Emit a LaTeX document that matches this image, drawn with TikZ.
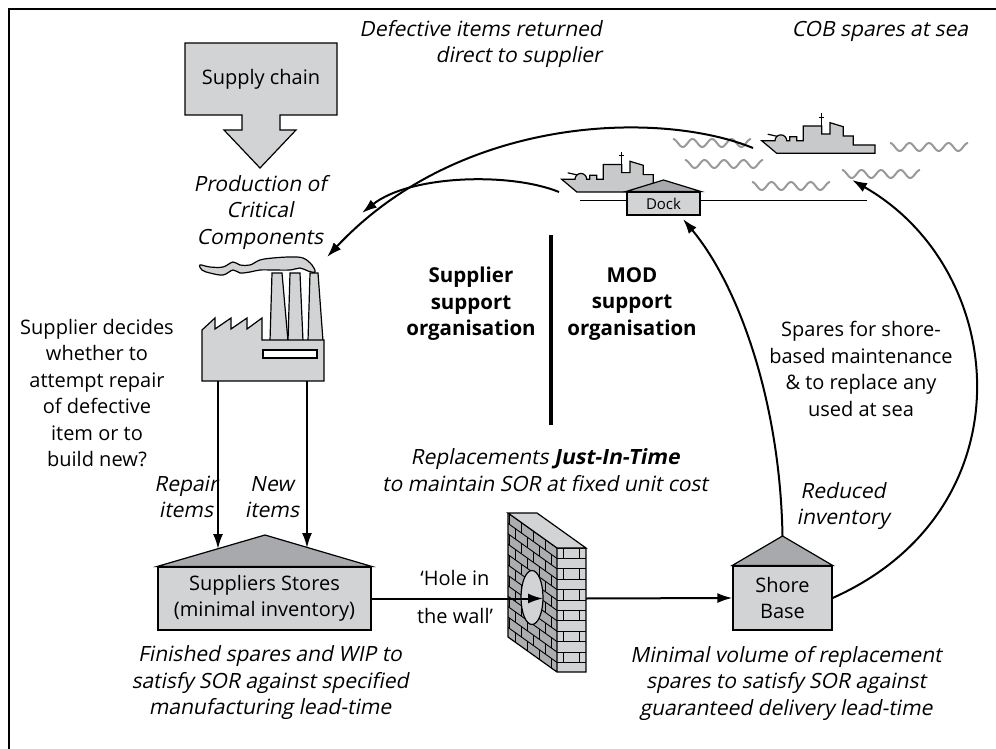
\documentclass[tikz,border=0pt]{standalone}
\usepackage{fontspec}
\setmainfont{Open Sans}
\newfontfamily\obliquefont{Open Sans}[FakeSlant=0.2]
\usetikzlibrary{arrows.meta}

\definecolor{boxgray}{RGB}{209,211,212}
\definecolor{roofgray}{RGB}{167,169,172}
\definecolor{brickdark}{RGB}{172,173,175}
\definecolor{shipgray}{RGB}{200,201,203}

\begin{document}
\begin{tikzpicture}[x=1pt,y=-1pt,font=\fontsize{20}{26.5}\selectfont,
  box/.style={draw=black,line width=1.2pt,fill=boxgray,inner sep=0pt,align=center},
  roof/.style={draw=black,line width=1.2pt,fill=roofgray},
  flow/.style={line width=2pt,-{Latex[length=15pt,width=10pt]}},
  wave/.style={black!40,line width=2pt},
  note/.style={align=center,inner sep=0pt,font=\fontsize{21}{26.5}\selectfont\obliquefont},
  bold note/.style={align=center,inner sep=0pt,font=\fontsize{20.5}{26.5}\selectfont\bfseries},
  warship/.pic={
    \draw[line width=1.2pt,fill=shipgray] (0,0) -- (13.3,0)
      arc[start angle=180,end angle=360,radius=5.85] -- (28,0) -- (28,-4)
      -- (35,-4) -- (35,0) -- (41.6,0) -- (41.6,-14.7) -- (60,-14.7)
      -- (60,-6.7) -- (68.3,-6.7) -- (68.3,-18) -- (81.6,-14) -- (81.6,-4.7)
      -- (91.6,-4.7) -- (91.6,4.3) -- (113.3,4.3) -- (113.3,12.6)
      -- (15,12.6) -- cycle;
    \draw[line width=1.2pt] (15,-4.5) -- (6,-6.5);
    \draw[line width=1.2pt] (60,-14.7) -- (60,-27.4) (57.3,-23.4) -- (62.7,-23.4);
  }]

\useasboundingbox (0,0) rectangle (996,749);

% frame
\draw[line width=2pt] (8.5,749) -- (8.5,9.5) -- (996,9.5);

% supply chain block arrow
\draw[line width=1.2pt,fill=boxgray] (185,43) -- (337,43) -- (337,115) -- (280,115)
  -- (280,130) -- (296,130) -- (260,168) -- (224,130) -- (242,130) -- (242,115)
  -- (185,115) -- cycle;
\node (supply) at (261,79) {Supply chain};

\node[note] (production) at (260,212) {Production of\\Critical\\Components};
\node[align=center,inner sep=0pt] (decides) at (97,393)
  {Supplier decides\\whether to\\attempt repair\\of defective\\item or to\\build new?};

% factory
\draw[line width=1.2pt,fill=boxgray] plot[smooth cycle,tension=0.6] coordinates {
  (200,265) (210,267) (223,267) (233,262) (240,265) (250,265) (260,260) (273,258)
  (290,257) (303,258) (312,265) (315,272) (308,271) (300,268) (290,270) (273,270)
  (260,270) (250,272) (240,273) (233,270) (223,275) (210,273) (202,270)};
\draw[line width=1.2pt,fill=boxgray] (270,341) -- (272,273) -- (282,273) -- (288,341) -- cycle;
\draw[line width=1.2pt,fill=boxgray] (288,341) -- (290,273) -- (300,273) -- (303,341) -- cycle;
\draw[line width=1.2pt,fill=boxgray] (308,341) -- (310,273) -- (318,273) -- (323,341) -- cycle;
\draw[line width=1.2pt,fill=boxgray] (202,381) -- (202,330) -- (215,318) -- (215,329)
  -- (231,318) -- (231,329) -- (247,318) -- (247,329) -- (262,318) -- (262,340)
  -- (324,340) -- (324,381) -- cycle;
\draw[line width=1.2pt,fill=white] (263,350) rectangle (317,358);
\coordinate (repair-out) at (218,381);
\coordinate (new-out) at (307,381);

\node[note] (repair) at (186,497) {Repair\\items};
\node[note] (new) at (272,497) {New\\items};

% suppliers stores
\node[box,minimum width=213pt,minimum height=63pt] (stores) at (264.5,598.5)
  {Suppliers Stores\\(minimal inventory)};
\draw[roof] (stores.north west) -- (265,535) -- (stores.north east) -- cycle;
\coordinate (repair-in) at (218,549);
\coordinate (new-in) at (307,548);

\node[note] (finished) at (270,683)
  {Finished spares and WIP to\\satisfy SOR against specified\\manufacturing lead-time};

% brick wall
\fill[brickdark] (508,513) -- (557,548) -- (557,672) -- (508,637) -- cycle;
\begin{scope}
\clip (508,513) -- (557,548) -- (557,672) -- (508,637) -- cycle;
\foreach \i in {0,...,12} {
  \draw[line width=0.9pt] (508,513+\i*10.4) -- (557,548+\i*10.4);
  \foreach \k in {0,...,4} {
    \pgfmathsetmacro{\bx}{509+\k*12+mod(\i,2)*6}
    \pgfmathsetmacro{\by}{513+\i*10.4+(\bx-508)*35/49}
    \draw[line width=0.9pt] (\bx,\by) -- (\bx,\by+10.4);
  }
}
\end{scope}
\fill[boxgray] (557,548) rectangle (586,672);
\foreach \i in {0,...,11} {
  \draw[line width=0.9pt] (557,548+\i*10.4) -- (586,548+\i*10.4);
  \ifodd\i\else
    \draw[line width=0.9pt] (563,548+\i*10.4) -- (563,558.4+\i*10.4)
                            (579,548+\i*10.4) -- (579,558.4+\i*10.4);
  \fi
}
\draw[line width=1.2pt,fill=boxgray] (508,513) -- (537,513) -- (586,548) -- (557,548) -- cycle;
\draw[line width=1.2pt] (508,513) -- (508,637) -- (557,672) -- (586,672) -- (586,548)
  (557,548) -- (557,672);
\draw[line width=1.2pt,fill=boxgray] (532,597.5) ellipse[x radius=11,y radius=27];
\coordinate (hole) at (543,598.5);
\coordinate (wall-out) at (586,598.5);

\node[align=center,inner sep=0pt] (hole-text) at (455,597) {‘Hole in\\[11pt]the wall’};

% shore base
\node[box,minimum width=99pt,minimum height=64pt] (shore) at (782.5,598) {Shore\\Base};
\draw[roof] (shore.north west) -- (782.5,536) coordinate (shore-top) -- (shore.north east) -- cycle;

\node[note] (minimal) at (786,683)
  {Minimal volume of replacement\\spares to satisfy SOR against\\guaranteed delivery lead-time};
\node[note] (reduced) at (843,506) {Reduced\\inventory};
\node[align=center,inner sep=0pt] (spares) at (861,369)
  {Spares for shore-\\based maintenance\\\& to replace any\\used at sea};

% organisations
\draw[line width=4pt] (551,235) -- (551,425);
\node[bold note] (supplier-org) at (471,304) {Supplier\\support\\organisation};
\node[bold note] (mod-org) at (632,304) {MOD\\support\\organisation};
\node[note] (jit) at (545,470)
  {Replacements \textbf{Just-In-Time}\\to maintain SOR at fixed unit cost};

% sea, ships and dock
\foreach \wx/\wy in {673/143, 685/164, 752/186, 842/174, 890/147}
  \draw[wave] plot[domain=0:78,samples=60,smooth] ({\wx+\x},{\wy-4*cos(\x/19.5*360)});
\draw[line width=1pt] (580,200) -- (867,200);
\pic at (561.7,179.3) {warship};
\pic at (761.7,140.7) {warship};
\node[box,minimum width=73pt,minimum height=23pt,font=\fontsize{15}{18}\selectfont]
  (dock) at (663.5,203.5) {Dock};
\draw[roof] (dock.north west) -- (663.5,180) -- (dock.north east) -- cycle;
\coordinate (cob-ship) at (753,148);
\coordinate (dock-ship) at (559,192);
\coordinate (dock-in) at (683,219);
\coordinate (sea-in) at (852,180);
\coordinate (factory-in) at (327,257);
\coordinate (factory-in2) at (362,213);

\node[note,align=right,anchor=east] (defective) at (602,44)
  {Defective items returned\\direct to supplier};
\node[note] (cob) at (880,31) {COB spares at sea};

% flows
\draw[flow] (repair-out) -- (repair-in);
\draw[flow] (new-out) -- (new-in);
\draw[flow] (stores.east) -- (hole);
\draw[flow] (wall-out) -- (shore.west);
\draw[flow] (shore-top) .. controls (780,400) and (738,285) .. (dock-in);
\draw[flow] (shore.east) .. controls (1030,510) and (1010,270) .. (sea-in);
\draw[flow] (cob-ship) .. controls (660,110) and (460,115) .. (factory-in);
\draw[flow] (dock-ship) .. controls (510,172) and (410,175) .. (factory-in2);

\end{tikzpicture}
\end{document}
